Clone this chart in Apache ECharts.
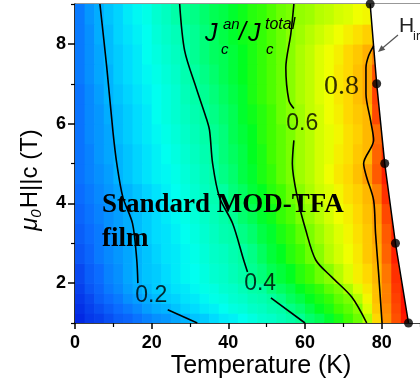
<!DOCTYPE html>
<html>
<head>
<meta charset="utf-8">
<script src="https://cdn.jsdelivr.net/npm/echarts@6/dist/echarts.min.js"></script>
<style>
  html, body { margin: 0; padding: 0; background: #fff; }
  #chart { width: 420px; height: 386px; }
</style>
</head>
<body>
<div id="chart"></div>
<script>
// Axis ticks
const xTicks = [0, 20, 40, 60, 80];
const xMinorTicks = [10, 30, 50, 70, 90];
const yTicks = [2, 4, 6, 8];
const yMinorTicks = [1, 3, 5, 7, 9];

// Grid of the Jc(an)/Jc(total) ratio: column centres in T (K), row edges in mu0H (T)
const fieldT = [1.25, 3.75, 6.25, 8.75, 11.25, 13.75, 16.25, 18.75, 21.25, 23.75,
                26.25, 28.75, 31.25, 33.75, 36.25, 38.75, 41.25, 43.75, 46.25, 48.75,
                51.25, 53.75, 56.25, 58.75, 61.25, 63.75, 66.25, 68.75, 71.25, 73.75,
                76.25, 78.75, 81.25, 83.75, 86.25, 88.75];
const fieldHEdges = [1, 1.25, 1.5, 1.75, 2, 2.5, 3, 3.5, 4, 4.5, 5,
                     5.5, 6, 6.5, 7, 7.5, 8, 8.5, 9];
// one row per field band (bottom to top), one value per fieldT entry (null above H_irr)
const ratio = [
  [.01,.03,.04,.06,.08,.09,.11,.13,.15,.16, .18,.20,.22,.23,.25,.27,.28,.30,.32,.34, .35,.37,.39,.41,.44,.46,.49,.52,.55,.58, .64,.75,.83,.90,.97,null],
  [.02,.04,.06,.08,.10,.12,.14,.17,.19,.20, .22,.24,.25,.27,.28,.30,.32,.33,.35,.36, .38,.39,.42,.44,.47,.50,.52,.55,.57,.60, .68,.77,.84,.91,.98,null],
  [.03,.05,.08,.10,.12,.15,.17,.19,.21,.23, .24,.26,.27,.29,.31,.32,.34,.35,.37,.38, .40,.42,.45,.47,.50,.52,.54,.57,.59,.64, .71,.78,.85,.92,.98,null],
  [.04,.07,.09,.12,.14,.17,.19,.21,.23,.24, .26,.27,.29,.31,.32,.34,.35,.37,.39,.40, .43,.45,.47,.50,.52,.54,.57,.59,.63,.68, .73,.78,.85,.93,.98,null],
  [.05,.08,.10,.13,.15,.18,.20,.22,.23,.25, .27,.29,.30,.32,.34,.35,.37,.39,.41,.43, .46,.48,.50,.53,.55,.58,.60,.64,.68,.72, .75,.79,.86,.94,.97,null],
  [.07,.09,.12,.14,.16,.18,.20,.22,.24,.26, .27,.29,.31,.33,.35,.36,.38,.40,.42,.45, .48,.50,.53,.55,.58,.60,.64,.67,.70,.73, .77,.80,.88,.96,null,null],
  [.08,.10,.12,.15,.17,.19,.21,.23,.25,.26, .28,.30,.32,.34,.36,.38,.39,.42,.44,.47, .49,.52,.54,.57,.59,.62,.65,.68,.71,.74, .77,.81,.89,.96,null,null],
  [.09,.11,.13,.15,.17,.19,.21,.23,.25,.27, .29,.31,.33,.35,.37,.39,.41,.44,.46,.49, .51,.54,.56,.59,.61,.64,.67,.70,.72,.75, .78,.82,.91,.96,null,null],
  [.10,.12,.14,.16,.18,.20,.22,.24,.26,.28, .30,.32,.34,.36,.38,.40,.43,.45,.48,.50, .53,.55,.58,.60,.63,.66,.68,.71,.74,.76, .79,.85,.94,null,null,null],
  [.11,.13,.15,.17,.20,.22,.24,.26,.28,.29, .31,.33,.35,.37,.39,.42,.44,.47,.49,.52, .54,.57,.59,.62,.64,.67,.70,.73,.75,.78, .82,.89,.96,null,null,null],
  [.11,.13,.16,.18,.20,.22,.24,.26,.28,.30, .32,.34,.36,.38,.40,.43,.45,.47,.50,.52, .55,.57,.59,.62,.64,.67,.69,.72,.74,.77, .79,.88,.95,null,null,null],
  [.11,.14,.16,.18,.21,.23,.25,.27,.29,.31, .33,.35,.37,.39,.41,.43,.46,.48,.50,.53, .55,.57,.59,.62,.64,.67,.69,.71,.74,.76, .79,.87,.95,null,null,null],
  [.11,.14,.16,.19,.21,.23,.25,.27,.30,.32, .34,.36,.38,.40,.42,.44,.46,.49,.51,.53, .55,.58,.60,.62,.65,.67,.70,.72,.75,.77, .79,.91,null,null,null,null],
  [.11,.14,.17,.20,.22,.24,.26,.28,.30,.32, .34,.37,.39,.41,.43,.45,.47,.49,.52,.54, .56,.58,.60,.63,.65,.68,.70,.73,.75,.78, .81,.92,null,null,null,null],
  [.12,.15,.18,.20,.23,.25,.27,.29,.31,.33, .35,.38,.40,.42,.44,.46,.48,.50,.52,.54, .56,.58,.60,.63,.65,.68,.70,.73,.75,.78, .81,.90,null,null,null,null],
  [.12,.15,.18,.21,.23,.25,.27,.30,.32,.34, .36,.38,.41,.43,.45,.46,.48,.50,.52,.54, .56,.58,.60,.63,.65,.68,.70,.72,.75,.77, .80,.85,null,null,null,null],
  [.12,.15,.19,.21,.24,.26,.28,.30,.33,.35, .37,.39,.41,.43,.45,.47,.49,.51,.52,.54, .56,.58,.60,.62,.64,.66,.68,.70,.72,.74, .76,.77,null,null,null,null],
  [.12,.16,.19,.22,.24,.27,.29,.31,.34,.36, .39,.41,.42,.44,.46,.47,.49,.51,.53,.54, .56,.58,.59,.61,.62,.64,.65,.67,.68,.70, .71,.72,null,null,null,null]
];

// Iso-ratio lines, as [T, mu0H] points; each level is split where its label sits
const contourLevels = ['0.2', '0.4', '0.6', '0.8'];
const contourLines = [
  [[[6.5, 9], [8.3, 7.4], [9.9, 5.8], [10.9, 5.0], [12.5, 4.15], [15, 3.5], [16.1, 2.6], [16.4, 2.0]],
   [[24.2, 1.33], [31.9, 1.0]]],
  [[[27.3, 9], [28.6, 7.83], [31.6, 6.9], [34.2, 6.15], [35.1, 5.83], [35.9, 5.0], [37.7, 4.15], [41.1, 3.5], [44, 2.58], [45, 2.28]],
   [[51.1, 1.63], [60, 1.0]]],
  [[[57.1, 9], [56.3, 8.25], [55, 7.4], [55.8, 6.58], [57.1, 6.38]],
   [[57.1, 5.58], [56.7, 5.0], [58, 4.15], [60.2, 3.33], [62.8, 2.58], [67, 2.15], [72.2, 1.65], [76.1, 1.0]]],
  [[[77.9, 7.95], [76.6, 7.7], [75.9, 7.4], [75.9, 6.75], [77.1, 6.08], [77.9, 5.58], [75.3, 5.0], [76.1, 4.65], [77.9, 4.08], [78.4, 3.25], [79.2, 2.25], [80.1, 1.0]]]
];
const contourLabelT = [19.9, 48.3, 59.3, 69.5];
const contourLabelH = [1.68, 1.98, 5.99, 6.92];

// Irreversibility line H_irr(T)
const hirrT = [77, 78.7, 80.8, 83.6, 87];
const hirrH = [9, 7, 5, 3, 1];

const X_MIN = 0, X_MAX = 90, Y_MIN = 1, Y_MAX = 9;
const CELL_W = 2.5;

// [T centre, H low, H high, ratio]
const cells = [];
ratio.forEach(function (row, j) {
  row.forEach(function (v, i) {
    if (v !== null) cells.push([fieldT[i], fieldHEdges[j], fieldHEdges[j + 1], v]);
  });
});

const SANS = 'Liberation Sans, Arial, sans-serif';
const SERIF = 'Liberation Serif, Times New Roman, serif';

const series = [];

// colour field
series.push({
  type: 'custom',
  data: cells,
  encode: { x: 0, y: [1, 2] },
  clip: true,
  z: 1,
  renderItem: function (params, api) {
    const t = api.value(0);
    const p0 = api.coord([t - CELL_W / 2, api.value(2)]);
    const p1 = api.coord([t + CELL_W / 2, api.value(1)]);
    return {
      type: 'rect',
      shape: { x: p0[0], y: p0[1], width: p1[0] - p0[0] + 0.7, height: p1[1] - p0[1] + 0.7 },
      style: { fill: api.visual('color') }
    };
  }
});

// blank region above the irreversibility line
series.push({
  type: 'custom',
  data: [[X_MAX, Y_MIN]],
  clip: true,
  z: 2,
  silent: true,
  renderItem: function (params, api) {
    const pts = hirrT.map(function (t, i) { return api.coord([t, hirrH[i]]); });
    pts.push(api.coord([X_MAX + 5, Y_MIN]));
    pts.push(api.coord([X_MAX + 5, Y_MAX]));
    return { type: 'polygon', shape: { points: pts }, style: { fill: '#ffffff' } };
  }
});

// iso-ratio lines
contourLines.forEach(function (segs) {
  segs.forEach(function (seg) {
    series.push({
      type: 'line',
      data: seg,
      smooth: 0.3,
      symbol: 'none',
      z: 3,
      silent: true,
      lineStyle: { color: '#000', width: 1.6 }
    });
  });
});

// H_irr line and points
series.push({
  type: 'line',
  data: hirrT.map(function (t, i) { return [t, hirrH[i]]; }),
  symbol: 'none',
  z: 4,
  lineStyle: { color: '#000', width: 1.5 }
});
series.push({
  type: 'scatter',
  data: hirrT.map(function (t, i) { return [t, hirrH[i]]; }),
  symbol: 'circle',
  symbolSize: 9,
  z: 5,
  itemStyle: { color: '#000' }
});

// level labels
series.push({
  type: 'scatter',
  symbolSize: 0,
  z: 6,
  clip: false,
  silent: true,
  data: contourLevels.map(function (lv, i) {
    const item = { name: lv, value: [contourLabelT[i], contourLabelH[i]] };
    if (lv === '0.8') item.label = { fontFamily: SERIF, fontSize: 28 };
    return item;
  }),
  label: {
    show: true,
    position: 'inside',
    formatter: '{b}',
    color: '#000',
    fontFamily: SANS,
    fontSize: 23
  }
});

const option = {
  animation: false,
  backgroundColor: '#fff',
  grid: { left: 75, top: 4, width: 346.5, height: 319 },
  visualMap: {
    type: 'continuous',
    show: false,
    min: 0,
    max: 1,
    dimension: 3,
    seriesIndex: 0,
    inRange: {
      color: ['#0020e0', '#0848f0', '#0a6cff', '#0590ff', '#00b4ff', '#00dcff', '#00fff0',
              '#00ffc8', '#00ffa0', '#00ff60', '#00ff20', '#40ff00', '#88ff00', '#c0ff00',
              '#f0ff00', '#ffd800', '#ffb000', '#ff8000', '#ff5000', '#ff2800', '#ff0000']
    }
  },
  xAxis: [
    {
      type: 'value', min: X_MIN, max: X_MAX, position: 'bottom',
      axisLine: { show: true, lineStyle: { color: '#000', width: 1.6 } },
      axisTick: { show: true, inside: false, length: 6, customValues: xTicks, lineStyle: { color: '#000', width: 1.5 } },
      axisLabel: { customValues: xTicks, margin: 11, color: '#000', fontFamily: SANS, fontWeight: 'bold', fontSize: 18 },
      splitLine: { show: false }
    },
    {
      type: 'value', min: X_MIN, max: X_MAX, position: 'bottom',
      axisLine: { show: false },
      axisTick: { show: true, inside: false, length: 4, customValues: xMinorTicks, lineStyle: { color: '#000', width: 1.2 } },
      axisLabel: { show: false },
      splitLine: { show: false }
    },
    {
      type: 'value', min: X_MIN, max: X_MAX, position: 'top',
      axisLine: { show: true, lineStyle: { color: '#777', width: 1.6 } },
      axisTick: { show: false },
      axisLabel: { show: false },
      splitLine: { show: false }
    }
  ],
  yAxis: [
    {
      type: 'value', min: Y_MIN, max: Y_MAX, position: 'left',
      axisLine: { show: true, lineStyle: { color: '#000', width: 1.6 } },
      axisTick: { show: true, inside: false, length: 7, customValues: yTicks, lineStyle: { color: '#000', width: 1.5 } },
      axisLabel: { customValues: yTicks, margin: 9, color: '#000', fontFamily: SANS, fontWeight: 'bold', fontSize: 18 },
      splitLine: { show: false }
    },
    {
      type: 'value', min: Y_MIN, max: Y_MAX, position: 'left',
      axisLine: { show: false },
      axisTick: { show: true, inside: false, length: 4, customValues: yMinorTicks, lineStyle: { color: '#000', width: 1.2 } },
      axisLabel: { show: false },
      splitLine: { show: false }
    }
  ],
  series: series,
  graphic: [
    // axis titles
    { type: 'text', x: 261, y: 366, z: 100,
      style: { text: 'Temperature (K)', fill: '#000', font: '25px ' + SANS, textAlign: 'center', textVerticalAlign: 'middle' } },
    { type: 'text', x: 30, y: 180, rotation: Math.PI / 2, z: 100,
      style: {
        text: '{m|μ}{s|0}{n|H||c (T)}', textAlign: 'center', textVerticalAlign: 'middle', fill: '#000',
        rich: {
          m: { fontFamily: SANS, fontStyle: 'italic', fontSize: 24, lineHeight: 28 },
          s: { fontFamily: SANS, fontStyle: 'italic', fontSize: 15, lineHeight: 28, verticalAlign: 'bottom', padding: [10, 1, 0, 0] },
          n: { fontFamily: SANS, fontSize: 24, lineHeight: 28 }
        }
      } },
    // ratio symbol J_c^an / J_c^total
    { type: 'text', x: 205, y: 34, z: 100, style: { text: 'J', fill: '#000', font: 'italic 25px ' + SANS, textVerticalAlign: 'middle' } },
    { type: 'text', x: 223, y: 25, z: 100, style: { text: 'an', fill: '#000', font: 'italic 15px ' + SANS, textVerticalAlign: 'middle' } },
    { type: 'text', x: 221, y: 50, z: 100, style: { text: 'c', fill: '#000', font: 'italic 15px ' + SANS, textVerticalAlign: 'middle' } },
    { type: 'text', x: 239, y: 33, z: 100, style: { text: '/', fill: '#000', font: 'italic 25px ' + SANS, textVerticalAlign: 'middle' } },
    { type: 'text', x: 248, y: 34, z: 100, style: { text: 'J', fill: '#000', font: 'italic 25px ' + SANS, textVerticalAlign: 'middle' } },
    { type: 'text', x: 265, y: 25, z: 100, style: { text: 'total', fill: '#000', font: 'italic 16px ' + SANS, textVerticalAlign: 'middle' } },
    { type: 'text', x: 266, y: 50, z: 100, style: { text: 'c', fill: '#000', font: 'italic 15px ' + SANS, textVerticalAlign: 'middle' } },
    // sample name
    { type: 'text', x: 102, y: 205, z: 100, style: { text: 'Standard MOD-TFA', fill: '#000', font: 'bold 27px ' + SERIF, textVerticalAlign: 'middle' } },
    { type: 'text', x: 102, y: 239, z: 100, style: { text: 'film', fill: '#000', font: 'bold 27px ' + SERIF, textVerticalAlign: 'middle' } },
    // H_irr annotation with arrow
    { type: 'text', x: 399, y: 26, z: 100, style: { text: 'H', fill: '#222', font: '21px ' + SANS, textVerticalAlign: 'middle' } },
    { type: 'text', x: 413, y: 36, z: 100, style: { text: 'irr', fill: '#222', font: '13px ' + SANS, textVerticalAlign: 'middle' } },
    { type: 'line', z: 100, shape: { x1: 398, y1: 35, x2: 382, y2: 48.5 }, style: { stroke: '#555', lineWidth: 1.2 } },
    { type: 'polygon', z: 100, shape: { points: [[378, 52], [385.3, 49.8], [381.4, 45.2]] }, style: { fill: '#555' } }
  ]
};

const chart = echarts.init(document.getElementById('chart'), null, { renderer: 'canvas' });
chart.setOption(option);
</script>
</body>
</html>
